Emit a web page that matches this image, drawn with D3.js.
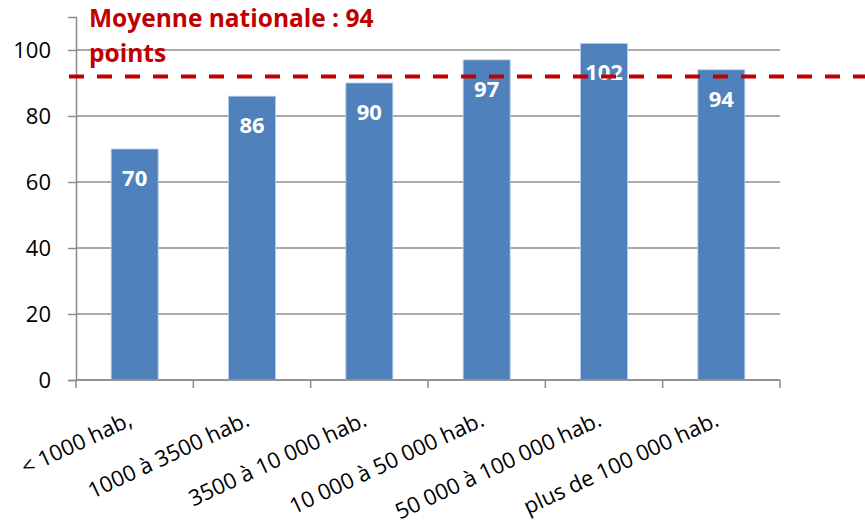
<!DOCTYPE html>
<html>
<head>
<meta charset="utf-8">
<script src="https://cdn.jsdelivr.net/npm/d3@7"></script>
<style>
  body { margin: 0; background: #fff; }
  text { font-family: "Open Sans", Lato, sans-serif; }
</style>
</head>
<body>
<div id="chart"></div>
<script>
var categories = ["< 1000 hab,", "1000 à 3500 hab.", "3500 à 10 000 hab.", "10 000 à 50 000 hab.", "50 000 à 100 000 hab.", "plus de 100 000 hab."];
var values = [70, 86, 90, 97, 102, 94];
var yTicks = [0, 20, 40, 60, 80, 100];
var refLevel = 92;   // where the dashed line sits in the picture
var refLabel = ["Moyenne nationale : 94", "points"];

var width = 865, height = 524;

var svg = d3.select("#chart").append("svg")
    .attr("width", width)
    .attr("height", height);

var x = d3.scaleBand()
    .domain(categories)
    .range([76, 780])
    .paddingInner(0.6)
    .paddingOuter(0.3);

var y = d3.scaleLinear()
    .domain([0, 110])
    .range([380, 17]);

// gridlines
svg.append("g")
    .selectAll("line")
    .data(yTicks)
    .enter().append("line")
    .attr("x1", 76)
    .attr("x2", 780)
    .attr("y1", function(d){ return y(d); })
    .attr("y2", function(d){ return y(d); })
    .attr("stroke", "#8c8c8c")
    .attr("stroke-width", 1.5);

// y axis
var yAxis = svg.append("g")
    .attr("transform", "translate(76,0)")
    .call(d3.axisLeft(y).tickValues(yTicks).tickSize(8).tickPadding(17));
yAxis.select(".domain").attr("stroke", "#8c8c8c").attr("stroke-width", 1.5);
yAxis.selectAll(".tick line").attr("stroke", "#8c8c8c").attr("stroke-width", 1.5);
yAxis.selectAll(".tick text")
    .attr("font-size", 22)
    .attr("font-family", "'Open Sans', sans-serif")
    .attr("fill", "#000");

// bars
svg.append("g")
    .selectAll("rect")
    .data(values)
    .enter().append("rect")
    .attr("x", function(d, i){ return x(categories[i]); })
    .attr("y", function(d){ return y(d); })
    .attr("width", x.bandwidth())
    .attr("height", function(d){ return y(0) - y(d); })
    .attr("fill", "#4f81bd")
    .attr("stroke", "#b8cce4")
    .attr("stroke-width", 0.8);

// x axis (ticks on category boundaries)
var bounds = d3.range(categories.length + 1).map(function(i){ return 76 + i * x.step(); });
svg.append("line")
    .attr("x1", 76).attr("x2", 780)
    .attr("y1", y(0)).attr("y2", y(0))
    .attr("stroke", "#8c8c8c").attr("stroke-width", 1.5);
svg.append("g")
    .selectAll("line")
    .data(bounds)
    .enter().append("line")
    .attr("x1", function(d){ return d; })
    .attr("x2", function(d){ return d; })
    .attr("y1", y(0))
    .attr("y2", y(0) + 8)
    .attr("stroke", "#8c8c8c").attr("stroke-width", 1.5);

svg.append("g")
    .selectAll("text")
    .data(categories)
    .enter().append("text")
    .attr("text-anchor", "end")
    .attr("font-size", 22)
    .attr("fill", "#000")
    .attr("transform", function(d){
        return "translate(" + (x(d) + x.bandwidth() / 2 - 1) + ",425) rotate(-25)";
    })
    .text(function(d){ return d; });

// value labels
svg.append("g")
    .selectAll("text")
    .data(values)
    .enter().append("text")
    .attr("x", function(d, i){ return x(categories[i]) + x.bandwidth() / 2; })
    .attr("y", function(d){ return y(d) + 37; })
    .attr("text-anchor", "middle")
    .attr("font-size", 22)
    .attr("font-weight", "bold")
    .attr("fill", "#fff")
    .text(function(d){ return d; });

// national average
svg.append("line")
    .attr("x1", 69)
    .attr("x2", width)
    .attr("y1", y(refLevel))
    .attr("y2", y(refLevel))
    .attr("stroke", "#c00000")
    .attr("stroke-width", 4)
    .attr("stroke-dasharray", "15,13");

svg.append("g")
    .selectAll("text")
    .data(refLabel)
    .enter().append("text")
    .attr("x", 89)
    .attr("y", function(d, i){ return 27 + i * 35; })
    .attr("font-size", 24.5)
    .attr("font-weight", "bold")
    .attr("fill", "#c00000")
    .text(function(d){ return d; });
</script>
</body>
</html>
